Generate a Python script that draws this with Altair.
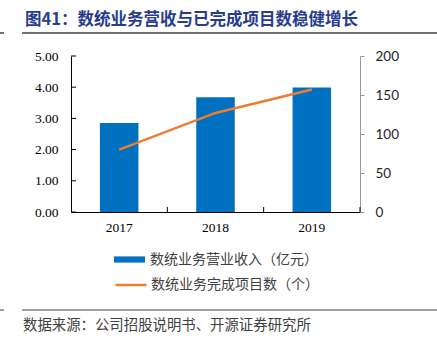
import altair as alt
import pandas as pd

years = ["2017", "2018", "2019"]
revenue = [2.85, 3.68, 3.99]
projects = [80, 127, 157]
left_ticks = [0, 1, 2, 3, 4, 5]
right_ticks = [0, 50, 100, 150, 200]
bar_name = "数统业务营业收入（亿元）"
line_name = "数统业务完成项目数（个）"
title_text = "图41：数统业务营收与已完成项目数稳健增长"
source_text = "数据来源：公司招股说明书、开源证券研究所"

df = pd.DataFrame({
    "year": years,
    "revenue": revenue,
    "projects": projects,
    "bar_s": [bar_name] * len(years),
    "line_s": [line_name] * len(years),
})
tick_df = pd.DataFrame({"v": left_ticks})

W, H = 289, 156
CJK = "Noto Sans CJK SC"
SERIF = "Liberation Serif"
STEP = W / len(years)

x_scale = alt.Scale(paddingInner=0.6, paddingOuter=0.3)
x_axis = alt.Axis(title=None, labelAngle=0, ticks=False, domainColor="#000000",
                  labelFont=SERIF, labelFontSize=13.5, labelColor="#000000",
                  labelPadding=8)

bars = alt.Chart(df).mark_bar().encode(
    x=alt.X("year:N", scale=x_scale, axis=x_axis),
    y=alt.Y("revenue:Q", scale=alt.Scale(domain=[0, 5]),
            axis=alt.Axis(title=None, values=left_ticks, format=".2f", ticks=False,
                          grid=False, domainColor="#000000", labelFont=SERIF,
                          labelFontSize=13.5, labelColor="#000000", labelPadding=13)),
    color=alt.Color("bar_s:N", scale=alt.Scale(range=["#0070C0"]),
                    legend=alt.Legend(orient="none", legendX=43, legendY=188, title=None,
                                      symbolType="M-1,-0.2H1V0.2H-1Z", symbolSize=961,
                                      symbolStrokeWidth=0, padding=0, labelLimit=0,
                                      labelFont=CJK, labelFontSize=14,
                                      labelColor="#404040", labelOffset=5)),
)

lticks = alt.Chart(tick_df).mark_rule(color="#000000", strokeWidth=1).encode(
    y=alt.Y("v:Q", scale=alt.Scale(domain=[0, 5]), axis=None),
    x=alt.value(0),
    x2=alt.value(5),
)

xticks = alt.Chart(df).mark_rule(color="#000000", strokeWidth=1, xOffset=0.3 * STEP).encode(
    x=alt.X("year:N", bandPosition=1, scale=x_scale, axis=x_axis),
    y=alt.value(H - 5),
    y2=alt.value(H),
)

line = alt.Chart(df).mark_line(strokeWidth=2.5).encode(
    x=alt.X("year:N", scale=x_scale, axis=x_axis),
    y=alt.Y("projects:Q", scale=alt.Scale(domain=[0, 200]),
            axis=alt.Axis(orient="right", title=None, values=right_ticks, grid=False,
                          domainColor="#999999", tickColor="#999999", tickSize=4,
                          labelFont="Lato", labelFontSize=13.5, labelColor="#262626",
                          labelPadding=11)),
    stroke=alt.Stroke("line_s:N", scale=alt.Scale(range=["#ED7D31"]),
                      legend=alt.Legend(orient="none", legendX=43, legendY=212, title=None,
                                        symbolType="stroke", symbolSize=961,
                                        symbolStrokeWidth=2.5, padding=0, labelLimit=0,
                                        labelFont=CJK, labelFontSize=14,
                                        labelColor="#404040", labelOffset=3)),
)

one = alt.Data(values=[{}])

title = alt.Chart(one).mark_text(text=title_text, font=CJK, fontSize=16.5, fontWeight="bold",
                                 color="#283C8E", align="left", baseline="middle").encode(
    x=alt.value(-46), y=alt.value(-36))
title_rule = alt.Chart(one).mark_rule(color="#404040", strokeWidth=1.5).encode(
    x=alt.value(-49), x2=alt.value(366), y=alt.value(-23))
title_tick = alt.Chart(one).mark_rule(color="#404040", strokeWidth=1.5).encode(
    x=alt.value(-71), x2=alt.value(-67), y=alt.value(-23))
foot_rule = alt.Chart(one).mark_rule(color="#808080", strokeWidth=1.5).encode(
    x=alt.value(-49), x2=alt.value(366), y=alt.value(254))
foot_tick = alt.Chart(one).mark_rule(color="#808080", strokeWidth=1.5).encode(
    x=alt.value(-71), x2=alt.value(-67), y=alt.value(254))
source = alt.Chart(one).mark_text(text=source_text, font=CJK, fontSize=14.4,
                                  color="#404040", align="left", baseline="middle").encode(
    x=alt.value(-48), y=alt.value(270))

chart = alt.layer(bars, lticks, xticks, line, title, title_rule, title_tick,
                  foot_rule, foot_tick, source).resolve_scale(
    y="independent", color="independent", stroke="independent"
).properties(
    width=W, height=H,
    padding={"left": 71, "top": 56, "right": 77, "bottom": 132},
    autosize=alt.AutoSizeParams(type="none"),
    background="white",
).configure_view(stroke=None)

chart.save("out.html", embed_options={"renderer": "svg", "actions": False})
